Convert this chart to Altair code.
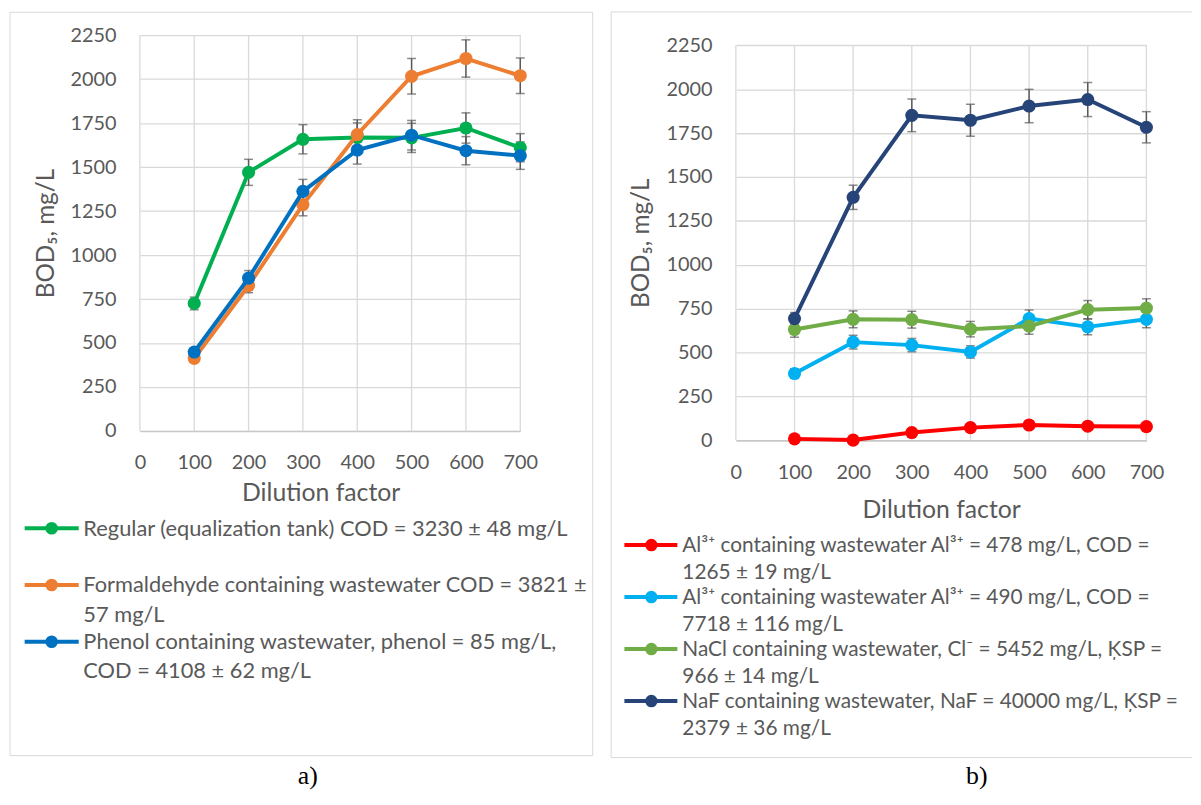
import altair as alt
import pandas as pd

# ---------------- data ----------------
dilution = [100, 200, 300, 400, 500, 600, 700]
x_ticks = [0, 100, 200, 300, 400, 500, 600, 700]
y_ticks = [0, 250, 500, 750, 1000, 1250, 1500, 1750, 2000, 2250]

# panel a)
a_names = ["Regular", "Formaldehyde", "Phenol"]
a_labels = [
    "Regular (equalization tank) COD = 3230 ± 48 mg/L",
    "Formaldehyde containing wastewater COD = 3821 ±\n57 mg/L",
    "Phenol containing wastewater, phenol = 85 mg/L,\nCOD = 4108 ± 62 mg/L",
]
a_colors = ["#00b050", "#ed7d31", "#0070c0"]
a_regular = [725, 1470, 1658, 1668, 1666, 1722, 1610]
a_regular_err = [36, 74, 83, 83, 83, 86, 80]
a_formaldehyde = [413, 827, 1287, 1685, 2016, 2117, 2019]
a_formaldehyde_err = [21, 41, 64, 84, 101, 106, 101]
a_phenol = [449, 869, 1362, 1597, 1681, 1593, 1565]
a_phenol_err = [22, 43, 68, 80, 84, 80, 78]

# panel b)
b_names = ["Al478", "Al490", "NaCl", "NaF"]
b_labels = [
    "Al³⁺ containing wastewater Al³⁺ = 478 mg/L, COD =\n1265 ± 19 mg/L",
    "Al³⁺ containing wastewater Al³⁺ = 490 mg/L, COD =\n7718 ± 116 mg/L",
    "NaCl containing wastewater, Cl⁻ = 5452 mg/L, ĶSP =\n966 ± 14 mg/L",
    "NaF containing wastewater, NaF = 40000 mg/L, ĶSP =\n2379 ± 36 mg/L",
]
b_colors = ["#ff0000", "#00b0f0", "#70ad47", "#264478"]
b_al478 = [8, 1, 44, 72, 87, 80, 78]
b_al478_err = [1, 0, 3, 5, 6, 6, 5]
b_al490 = [380, 559, 542, 503, 693, 646, 689]
b_al490_err = [27, 39, 38, 35, 49, 45, 48]
b_nacl = [631, 689, 687, 633, 650, 744, 753]
b_nacl_err = [44, 48, 48, 44, 46, 52, 53]
b_naf = [693, 1384, 1851, 1823, 1904, 1941, 1783]
b_naf_err = [35, 69, 93, 91, 95, 97, 89]

TXT = "#595959"
GRID = "#d9d9d9"
EB = "#595959"
FONT = "Lato"


def panel(names, labels, colors, values, errors, W, H, lay):
    yoff = lay["yoff"]
    rows = []
    for n, vals, errs in zip(names, values, errors):
        for x, v, e in zip(dilution, vals, errs):
            rows.append({"series": n, "x": x, "y": v, "lo": v - e, "hi": v + e})
    df = pd.DataFrame(rows)
    xs = alt.Scale(domain=[0, 700], nice=False, zero=False)
    ys = alt.Scale(domain=[0, 2250], nice=False, zero=False, range=[H + yoff, yoff])
    x_axis = alt.Axis(values=x_ticks, title="Dilution factor", grid=False, ticks=False,
                      domainColor="#c8c8c8", domainWidth=1.3, format="d",
                      labelFlush=False, labelOverlap=False, labelPadding=lay["xlp"],
                      labelFontSize=20, labelColor=TXT, labelFont=FONT,
                      titleFontSize=25, titleColor=TXT, titleFont=FONT, titleFontWeight="normal",
                      titleX=lay["tx"], titleY=lay["ty"], titleBaseline="alphabetic",
                      titleAlign="center")
    y_axis = alt.Axis(values=y_ticks, title="BOD₅, mg/L", grid=True, ticks=False, domain=False,
                      gridColor=GRID, gridWidth=1.3, labelOverlap=False, labelPadding=24, format="d",
                      labelFontSize=20, labelColor=TXT, labelFont=FONT,
                      titleFontSize=24.5, titleColor=TXT, titleFont=FONT, titleFontWeight="normal",
                      titleX=lay["yx"], titleY=yoff + H / 2, titleAngle=270, titleBaseline="middle",
                      titleAlign="center")
    X = lambda f: alt.X(f, scale=xs, axis=x_axis)
    Y = lambda f: alt.Y(f, scale=ys, axis=y_axis)

    gdf = pd.DataFrame({"t": x_ticks})
    grid = alt.Chart(gdf).mark_rule(color=GRID, strokeWidth=1.3).encode(
        x=X("t:Q"), y=alt.datum(0, scale=ys), y2=alt.datum(2250))

    base = alt.Chart(df)
    layers = [
        grid,
        base.mark_rule(color=EB, strokeWidth=1.5).encode(x=X("x:Q"), y=Y("lo:Q"), y2="hi:Q"),
        base.mark_tick(color=EB, orient="horizontal", size=9, thickness=1.5).encode(
            x=X("x:Q"), y=Y("lo:Q")),
        base.mark_tick(color=EB, orient="horizontal", size=9, thickness=1.5).encode(
            x=X("x:Q"), y=Y("hi:Q")),
    ]
    for n, c in zip(names, colors):
        s = base.transform_filter(alt.datum.series == n)
        layers.append(s.mark_line(color=c, strokeWidth=4).encode(x=X("x:Q"), y=Y("y:Q")))
        layers.append(s.mark_circle(color=c, size=175, opacity=1).encode(x=X("x:Q"), y=Y("y:Q")))
    main = alt.layer(*layers)

    ldf = pd.DataFrame({"series": names, "label": labels, "idx": list(range(len(names)))})
    lb = alt.Chart(ldf)
    color = alt.Color("series:N", scale=alt.Scale(domain=names, range=colors), legend=None)
    ly = alt.Y("idx:Q", scale=alt.Scale(domain=[0, len(names) - 1], range=lay["leg_y"]), axis=None)
    lx = lay["leg_x"]
    leg = alt.layer(
        lb.mark_rule(strokeWidth=4).encode(x=alt.value(lx[0]), x2=alt.value(lx[1]), y=ly, color=color),
        lb.mark_circle(size=160, opacity=1).encode(x=alt.value(lx[2]), y=ly, color=color),
        lb.mark_text(align="left", baseline="alphabetic", dy=lay["leg_dy"], font=FONT,
                     fontSize=lay["leg_fs"], color=TXT, lineBreak="\n", lineHeight=lay["leg_lh"]).encode(
            x=alt.value(lx[3]), y=ly, text="label:N"),
    )

    deco = alt.Chart(pd.DataFrame({"caption": [lay["caption"]]}))
    bx0, bx1, by0, by1 = lay["box"]
    if lay["closed"]:
        border = [deco.mark_rect(fillOpacity=0, stroke=GRID, strokeWidth=1).encode(
            x=alt.value(bx0), x2=alt.value(bx1), y=alt.value(by0), y2=alt.value(by1))]
    else:
        border = [
            deco.mark_rule(color=GRID, strokeWidth=1).encode(x=alt.value(bx0), x2=alt.value(bx1), y=alt.value(by0)),
            deco.mark_rule(color=GRID, strokeWidth=1).encode(x=alt.value(bx0), x2=alt.value(bx1), y=alt.value(by1)),
            deco.mark_rule(color=GRID, strokeWidth=1).encode(x=alt.value(bx0), y=alt.value(by0), y2=alt.value(by1)),
        ]
    cap = deco.mark_text(font="Liberation Serif", fontSize=26, color="black", align="center",
                         baseline="alphabetic").encode(
        x=alt.value(lay["cap"][0]), y=alt.value(lay["cap"][1]), text="caption:N")

    return alt.layer(*border, main, leg, cap).resolve_scale(y="independent").properties(
        width=W, height=H + yoff)


left = panel(a_names, a_labels, a_colors,
             [a_regular, a_formaldehyde, a_phenol],
             [a_regular_err, a_formaldehyde_err, a_phenol_err],
             383.6, 399.3,
             {"yoff": 0, "xlp": 22, "tx": 182.3, "ty": 70, "yx": -93.7,
              "leg_y": [497.3, 611.8], "leg_x": [-116.2, -61.7, -89, -57], "leg_dy": 7.5,
              "leg_lh": 29.5, "leg_fs": 22,
              "box": [-131, 456.6, -23, 726.6], "closed": True,
              "caption": "a)", "cap": [169.3, 755.5]})

right = panel(b_names, b_labels, b_colors,
              [b_al478, b_al490, b_nacl, b_naf],
              [b_al478_err, b_al490_err, b_nacl_err, b_naf_err],
              414, 398.3,
              {"yoff": 10.3, "xlp": 23, "tx": 207, "ty": 77.7, "yx": -95,
               "leg_y": [514.3, 671.6], "leg_x": [-112.4, -59, -85.2, -54], "leg_dy": 7,
               "leg_lh": 27, "leg_fs": 21,
               "box": [-125.8, 460, -23.4, 728.6], "closed": False,
               "caption": "b)", "cap": [243, 755.5]})

chart = alt.hconcat(left, right, spacing=16).resolve_scale(color="independent").properties(
    padding={"left": 1, "top": 0, "right": 0, "bottom": 0}
).configure_view(stroke=None)

chart.save("out.html", embed_options={"renderer": "svg", "actions": False})
